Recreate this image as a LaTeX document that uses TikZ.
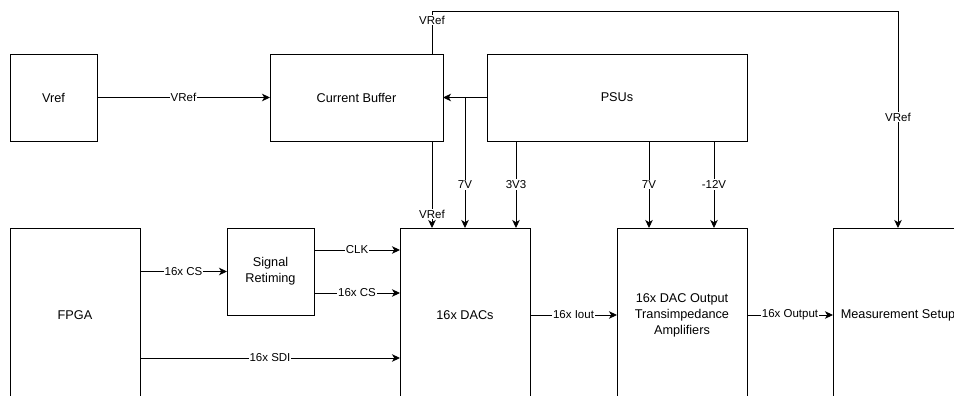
\documentclass[tikz,border=0pt]{standalone}
\usepackage{fontspec}
\setmainfont{Liberation Sans}
\usetikzlibrary{arrows.meta}
\begin{document}
\begin{tikzpicture}[x=1pt,y=-1pt,
 box/.style={draw=black, line width=0.9pt, inner sep=0pt, outer sep=0pt, align=center, font=\fontsize{12.7}{16}\selectfont},
 wire/.style={line width=0.9pt},
 arr/.style={wire, -{Stealth[length=8pt,width=7.5pt,inset=2.2pt]}},
 lbl/.style={fill=white, inner sep=1pt, font=\fontsize{11.5}{13}\selectfont}]
\useasboundingbox (0,0) rectangle (954,396);
\clip (0,0) rectangle (954,396);
\node[box, minimum width=87pt, minimum height=87pt] (vref) at (53.5,97.5) {Vref};
\node[box, minimum width=173pt, minimum height=87pt] (cb) at (356.5,97.5) {Current Buffer};
\node[box, minimum width=260pt, minimum height=87pt] (psu) at (617,97.5) {PSUs};
\node[box, minimum width=130pt, minimum height=174pt] (fpga) at (75,315) {FPGA};
\node[box, minimum width=87pt, minimum height=87pt] (sr) at (270.5,271.5) {Signal\\Retiming};
\node[box, minimum width=130pt, minimum height=174pt] (dac) at (465,315) {16x DACs};
\node[box, minimum width=130pt, minimum height=174pt] (tia) at (682,315) {16x DAC Output\\Transimpedance\\Amplifiers};
\node[box, minimum width=130pt, minimum height=174pt] (ms) at (898,315) {Measurement Setup};

\draw[arr] (vref.east) -- node[lbl]{VRef} (cb.west);
\draw[arr] (psu.west) -- (cb.east);
\draw[arr] (psu.west) -| node[lbl, pos=0.835]{7V} (dac.north);
\draw[arr] ([xshift=29pt]psu.south west) -- node[lbl]{3V3} ([xshift=29pt]psu.south west |- dac.north);
\draw[arr] ([xshift=-33pt]tia.north |- psu.south) -- node[lbl]{7V} ([xshift=-33pt]tia.north);
\draw[arr] ([xshift=32pt]tia.north |- psu.south) -- node[lbl]{-12V} ([xshift=32pt]tia.north);
\draw[arr] ([xshift=-11pt]cb.south east) -- node[lbl, pos=0.84]{VRef} ([xshift=-11pt]cb.south east |- dac.north);
\draw[arr] ([xshift=-11pt]cb.north east) -- node[lbl, pos=0.79]{VRef} ++(0,-43) -| node[lbl, pos=0.744]{VRef} (ms.north);

\draw[arr] (fpga.east |- sr.west) -- node[lbl]{16x CS} (sr.west);
\draw[arr] ([yshift=21.5pt]sr.east) -- node[lbl]{CLK} ([yshift=21.5pt]sr.east -| dac.west);
\draw[arr] ([yshift=-21.5pt]sr.east) -- node[lbl]{16x CS} ([yshift=-21.5pt]sr.east -| dac.west);
\draw[arr] ([yshift=-43pt]fpga.east) -- node[lbl]{16x SDI} ([yshift=-43pt]fpga.east -| dac.west);
\draw[arr] (dac.east) -- node[lbl]{16x Iout} (tia.west);
\draw[arr] (tia.east) -- node[lbl]{16x Output} (ms.west);
\end{tikzpicture}
\end{document}
